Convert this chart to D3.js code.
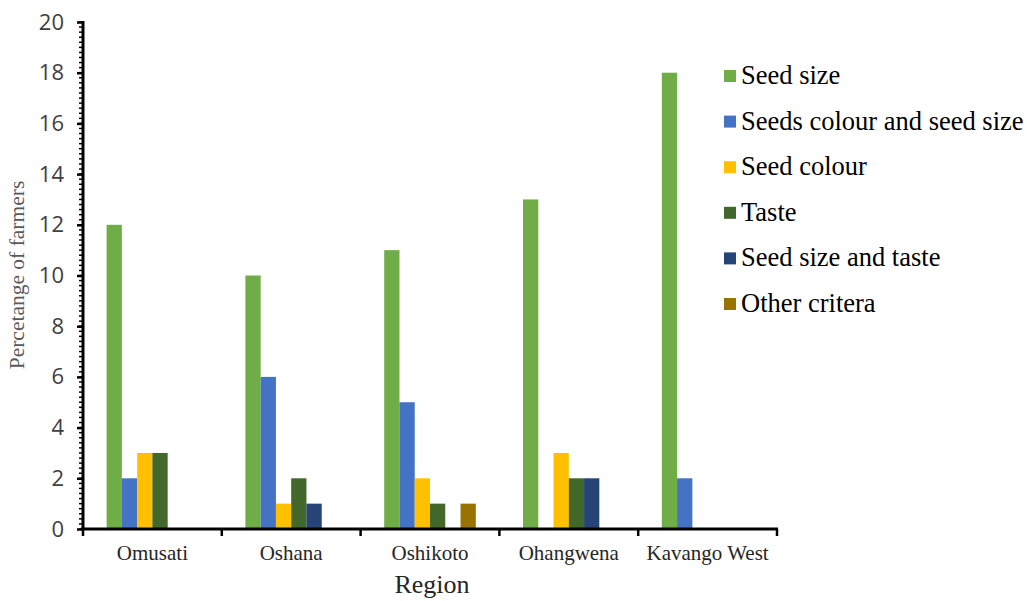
<!DOCTYPE html>
<html>
<head>
<meta charset="utf-8">
<script src="https://cdn.jsdelivr.net/npm/d3@7"></script>
<style>
  body { margin: 0; background: #fff; }
  .serif { font-family: "Liberation Serif", "DejaVu Serif", serif; }
  .sans { font-family: "Open Sans", "Liberation Sans", sans-serif; }
</style>
</head>
<body>
<div id="chart"></div>
<script>
var regions = ["Omusati", "Oshana", "Oshikoto", "Ohangwena", "Kavango West"];
var seriesNames = ["Seed size", "Seeds colour and seed size", "Seed colour", "Taste", "Seed size and taste", "Other critera"];
var seedSize = [12, 10, 11, 13, 18];
var colourAndSize = [2, 6, 5, 0, 2];
var seedColour = [3, 1, 2, 3, 0];
var taste = [3, 2, 1, 2, 0];
var sizeAndTaste = [0, 1, 0, 2, 0];
var otherCriteria = [0, 0, 1, 0, 0];
var yTicks = [0, 2, 4, 6, 8, 10, 12, 14, 16, 18, 20];
var colors = ["#70AD47", "#4472C4", "#FFC000", "#43682B", "#264478", "#997300"];

var seriesValues = [seedSize, colourAndSize, seedColour, taste, sizeAndTaste, otherCriteria];

var svgWidth = 1027;
var svgHeight = 601;
var margin = { top: 22, right: 250, bottom: 72, left: 83 };
var width = 777 - margin.left;
var height = 529 - margin.top;

var svg = d3.select("#chart")
  .append("svg")
  .attr("width", svgWidth)
  .attr("height", svgHeight);

var chartGroup = svg.append("g")
  .attr("transform", `translate(${margin.left}, ${margin.top})`);

var x0 = d3.scaleBand()
  .domain(regions)
  .range([0, width])
  .padding(0);

var pad = x0.bandwidth() * 0.17;
var x1 = d3.scaleBand()
  .domain(seriesNames)
  .range([pad, x0.bandwidth() - pad])
  .padding(0);

var y = d3.scaleLinear()
  .domain([0, 20])
  .range([height, 0]);

// bars
regions.forEach(function(region, i) {
  var g = chartGroup.append("g")
    .attr("transform", `translate(${x0(region)}, 0)`);
  seriesNames.forEach(function(name, j) {
    var v = seriesValues[j][i];
    if (v > 0) {
      g.append("rect")
        .attr("x", x1(name))
        .attr("y", y(v))
        .attr("width", x1.bandwidth())
        .attr("height", height - y(v))
        .attr("fill", colors[j]);
    }
  });
});

// minor ticks on y
var minorTicks = d3.range(0, 20.01, 0.2);
chartGroup.append("g")
  .selectAll("line")
  .data(minorTicks)
  .enter()
  .append("line")
  .attr("x1", -4)
  .attr("x2", 0)
  .attr("y1", d => y(d))
  .attr("y2", d => y(d))
  .attr("stroke", "#000")
  .attr("stroke-width", 1.5);

// y axis
var leftAxis = d3.axisLeft(y)
  .tickValues(yTicks)
  .tickSize(6)
  .tickPadding(13);

var yAxis = chartGroup.append("g").call(leftAxis);
yAxis.attr("font-family", null).attr("font-size", null);
yAxis.select(".domain").attr("stroke-width", 3).attr("d", `M0,${height + 1}V-1`);
yAxis.selectAll(".tick line").attr("stroke-width", 2.5);
yAxis.selectAll("text")
  .classed("sans", true)
  .style("font-size", "22px")
  .attr("fill", "#404040");

// x axis
var xBounds = [0].concat(regions.map(r => x0(r) + x0.bandwidth()));
chartGroup.append("line")
  .attr("x1", -2)
  .attr("x2", width + 1)
  .attr("y1", height)
  .attr("y2", height)
  .attr("stroke", "#000")
  .attr("stroke-width", 3);

chartGroup.append("g")
  .selectAll("line")
  .data(xBounds)
  .enter()
  .append("line")
  .attr("x1", d => d)
  .attr("x2", d => d)
  .attr("y1", height)
  .attr("y2", height + 7)
  .attr("stroke", "#000")
  .attr("stroke-width", 2.5);

chartGroup.append("g")
  .selectAll("text")
  .data(regions)
  .enter()
  .append("text")
  .attr("class", "serif")
  .attr("x", d => x0(d) + x0.bandwidth() / 2)
  .attr("y", height + 31)
  .attr("text-anchor", "middle")
  .style("font-size", "21px")
  .attr("fill", "#262626")
  .text(d => d);

// axis titles
chartGroup.append("text")
  .attr("class", "serif")
  .attr("x", width / 2 + 2)
  .attr("y", height + 64)
  .attr("text-anchor", "middle")
  .style("font-size", "26px")
  .attr("fill", "#262626")
  .text("Region");

chartGroup.append("text")
  .attr("class", "serif")
  .attr("transform", "rotate(-90)")
  .attr("x", 0 - 275 + margin.top)
  .attr("y", 0 - margin.left + 24)
  .attr("text-anchor", "middle")
  .style("font-size", "21.5px")
  .attr("fill", "#595959")
  .text("Percetange of farmers");

// legend
var legend = svg.append("g")
  .attr("transform", "translate(724, 70)");

seriesNames.forEach(function(name, j) {
  var row = legend.append("g")
    .attr("transform", `translate(0, ${j * 45.6})`);
  row.append("rect")
    .attr("x", 0)
    .attr("y", 0)
    .attr("width", 12)
    .attr("height", 12)
    .attr("fill", colors[j]);
  row.append("text")
    .attr("class", "serif")
    .attr("x", 17)
    .attr("y", 14)
    .style("font-size", "26.5px")
    .attr("fill", "#000")
    .text(name);
});
</script>
</body>
</html>
